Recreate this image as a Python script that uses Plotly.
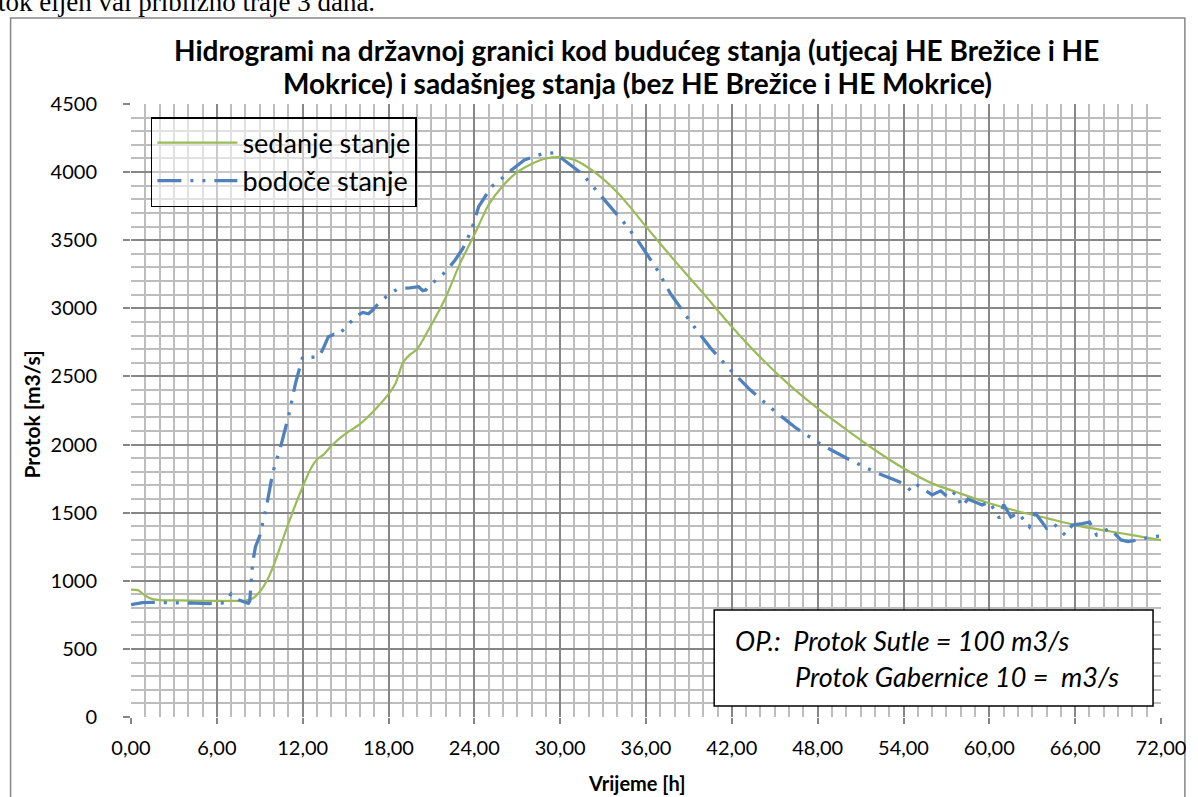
import plotly.graph_objects as go

# ---- data ----
t_sed = [0, 0.5, 1, 1.5, 2, 4, 6, 8, 8.5, 9, 9.5, 10, 10.5, 11, 11.5, 12, 12.5, 13, 13.5, 14,
         15, 16, 17, 18, 18.5, 19, 19.5, 20, 21, 22, 23, 24, 25, 26, 27, 28, 29, 30, 31, 32,
         33, 34, 35, 36, 38, 40, 42, 44, 46, 48, 50, 52, 54, 56, 58, 60, 62, 64, 66, 68, 70, 72]
q_sed = [935, 930, 890, 865, 858, 855, 852, 855, 870, 920, 1000, 1120, 1270, 1420, 1560, 1690,
         1810, 1890, 1930, 1990, 2080, 2150, 2250, 2370, 2450, 2600, 2660, 2700, 2880, 3080, 3330,
         3540, 3760, 3900, 4000, 4060, 4100, 4110, 4090, 4030, 3950, 3850, 3730, 3600, 3350, 3110,
         2865, 2640, 2440, 2265, 2110, 1960, 1826, 1715, 1640, 1569, 1510, 1460, 1409, 1370, 1335, 1299]

t_bod = [0, 0.3, 0.8, 1.5, 2.5, 3.5, 4.5, 5.5, 6.5, 7.0, 7.5, 7.9, 8.2, 8.3, 8.4, 8.5, 8.7, 9.0,
         9.5, 9.9, 10.5, 11.06, 11.5, 12.0, 12.5, 13.15, 13.5, 13.8, 14.2, 14.5, 15.0, 15.7, 16.2,
         16.6, 16.9, 17.3, 18.0, 18.7, 19.5, 20.1, 20.4, 20.6, 21.0, 21.5, 22.0, 22.66, 23.2, 23.8,
         24.3, 25.2, 26.0, 26.6, 27.5, 28.7, 29.6, 30.3, 31.5, 32.6, 33.5, 34.5, 35.4, 36.8, 37.7,
         39.1, 40.5, 41.8, 43.3, 44.9, 46.5, 48.3, 50.2, 52.1, 53.7, 54.2, 54.6, 55.0, 56.0, 56.6,
         57.2, 57.6, 58.1, 58.5, 59.5, 60.0, 60.7, 61.0, 61.5, 62.0, 62.8, 63.2, 64.0, 64.5, 65.3,
         65.8, 66.5, 67.0, 67.5, 68.4, 69.2, 69.7, 70.4, 71.35, 72]
q_bod = [825, 830, 840, 842, 838, 838, 836, 833, 838, 905, 860, 845, 835, 850, 960, 1130, 1250, 1330,
         1560, 1790, 2000, 2229, 2450, 2645, 2640, 2645, 2720, 2792, 2810, 2804, 2860, 2939, 2970,
         2960, 2988, 3036, 3100, 3146, 3150, 3159, 3130, 3135, 3180, 3220, 3270, 3355, 3440, 3575,
         3746, 3893, 3960, 4016, 4089, 4133, 4142, 4084, 3991, 3857, 3745, 3624, 3502, 3281, 3110,
         2902, 2710, 2559, 2400, 2254, 2120, 1997, 1890, 1794, 1727, 1691, 1654, 1700, 1630, 1660,
         1605, 1650, 1544, 1600, 1556, 1580, 1459, 1560, 1468, 1500, 1397, 1500, 1385, 1420, 1336,
         1409, 1420, 1430, 1336, 1385, 1300, 1287, 1300, 1323, 1330]

x_ticks = list(range(0, 73, 6))
x_tick_labels = [f"{v},00" for v in x_ticks]
y_ticks = list(range(0, 4501, 500))

series_names = ["sedanje stanje", "bodoče stanje"]
title_lines = ["Hidrogrami na državnoj granici kod budućeg stanja (utjecaj HE Brežice i HE",
               "Mokrice) i sadašnjeg stanja (bez HE Brežice i HE Mokrice)"]
note_lines = ["OP.:  Protok Sutle = 100 m3/s", "Protok Gabernice 10 =  m3/s"]

# ---- figure ----
W, H = 1198, 797
L, R, T, B = 131, 32, 104, 80
pw, ph = W - L - R, H - T - B

def px(x):
    return (x - L) / pw

def py(y):
    return (H - B - y) / ph

FONT = "Lato, Carlito, Calibri, sans-serif"
GREEN = "#9BBB59"
BLUE = "#4F81BD"

fig = go.Figure()
fig.add_trace(go.Scatter(x=t_sed, y=q_sed, mode="lines", name=series_names[0],
                         line=dict(color=GREEN, width=2.2, shape="spline", smoothing=0.6)))
fig.add_trace(go.Scatter(x=t_bod, y=q_bod, mode="lines", name=series_names[1],
                         line=dict(color=BLUE, width=3.3, dash="24px,9px,3px,9px,3px,9px")))

fig.update_layout(
    width=W, height=H,
    margin=dict(l=L, r=R, t=T, b=B),
    paper_bgcolor="white", plot_bgcolor="white",
    font=dict(family=FONT, color="black", size=20),
    showlegend=True,
    legend=dict(x=px(151), y=py(117), xanchor="left", yanchor="top",
                bgcolor="rgba(255,255,255,0.55)", bordercolor="black", borderwidth=1.5,
                font=dict(size=27, family=FONT), itemwidth=80, tracegroupgap=0),
)

fig.update_xaxes(range=[0, 72], tickvals=x_ticks, ticktext=x_tick_labels,
                 showgrid=True, gridcolor="#878787", gridwidth=1.8,
                 ticks="outside", ticklen=6, tickcolor="#878787", tickwidth=1.5,
                 ticklabelstandoff=7,
                 minor=dict(dtick=1, showgrid=True, gridcolor="#BDBDBD", gridwidth=1.6),
                 zeroline=False, showline=False, tickfont=dict(size=20))
fig.update_yaxes(range=[0, 4500], tickvals=y_ticks,
                 showgrid=True, gridcolor="#878787", gridwidth=1.8,
                 ticks="outside", ticklen=7, tickcolor="#878787", tickwidth=1.5,
                 ticklabelstandoff=22,
                 minor=dict(dtick=100, showgrid=True, gridcolor="#BDBDBD", gridwidth=1.6),
                 zeroline=False, showline=False, tickfont=dict(size=20))

# outer chart border
fig.add_shape(type="rect", xref="paper", yref="paper",
              x0=px(10), x1=px(1190), y0=py(805), y1=py(18),
              line=dict(color="#868686", width=1.5), fillcolor="rgba(0,0,0,0)", layer="below")

# note box
fig.add_shape(type="rect", xref="paper", yref="paper",
              x0=px(717), x1=px(1158), y0=py(706), y1=py(610),
              line=dict(color="black", width=1.5), fillcolor="white", layer="above")
fig.add_annotation(xref="paper", yref="paper", x=px(736), y=py(640), xanchor="left", yanchor="middle",
                   text="<i>" + note_lines[0] + "</i>", showarrow=False, font=dict(size=27, family=FONT))
fig.add_annotation(xref="paper", yref="paper", x=px(796), y=py(676), xanchor="left", yanchor="middle",
                   text="<i>" + note_lines[1] + "</i>", showarrow=False, font=dict(size=27, family=FONT))

# title
fig.add_annotation(xref="paper", yref="paper", x=px(639), y=py(50), xanchor="center", yanchor="middle",
                   text="<b>" + title_lines[0] + "</b>", showarrow=False, font=dict(size=28, family=FONT))
fig.add_annotation(xref="paper", yref="paper", x=px(640), y=py(83), xanchor="center", yanchor="middle",
                   text="<b>" + title_lines[1] + "</b>", showarrow=False, font=dict(size=28, family=FONT))

# axis titles
fig.add_annotation(xref="paper", yref="paper", x=px(639), y=py(783), xanchor="center", yanchor="middle",
                   text="<b>Vrijeme [h]</b>", showarrow=False, font=dict(size=20, family=FONT))
fig.add_annotation(xref="paper", yref="paper", x=px(31), y=py(414), xanchor="center", yanchor="middle",
                   text="<b>Protok [m3/s]</b>", textangle=-90, showarrow=False, font=dict(size=21, family=FONT))

# cropped line of document text above the chart
fig.add_annotation(xref="paper", yref="paper", x=px(-5), y=py(2), xanchor="left", yanchor="middle",
                   text="tok eijen val približno traje 3 dana.", showarrow=False,
                   font=dict(size=27, family="Liberation Serif, Times New Roman, serif"))

fig.write_html("out.html", config={"displayModeBar": False},
               post_script="document.body.style.margin='0px';document.body.style.overflow='hidden';")
